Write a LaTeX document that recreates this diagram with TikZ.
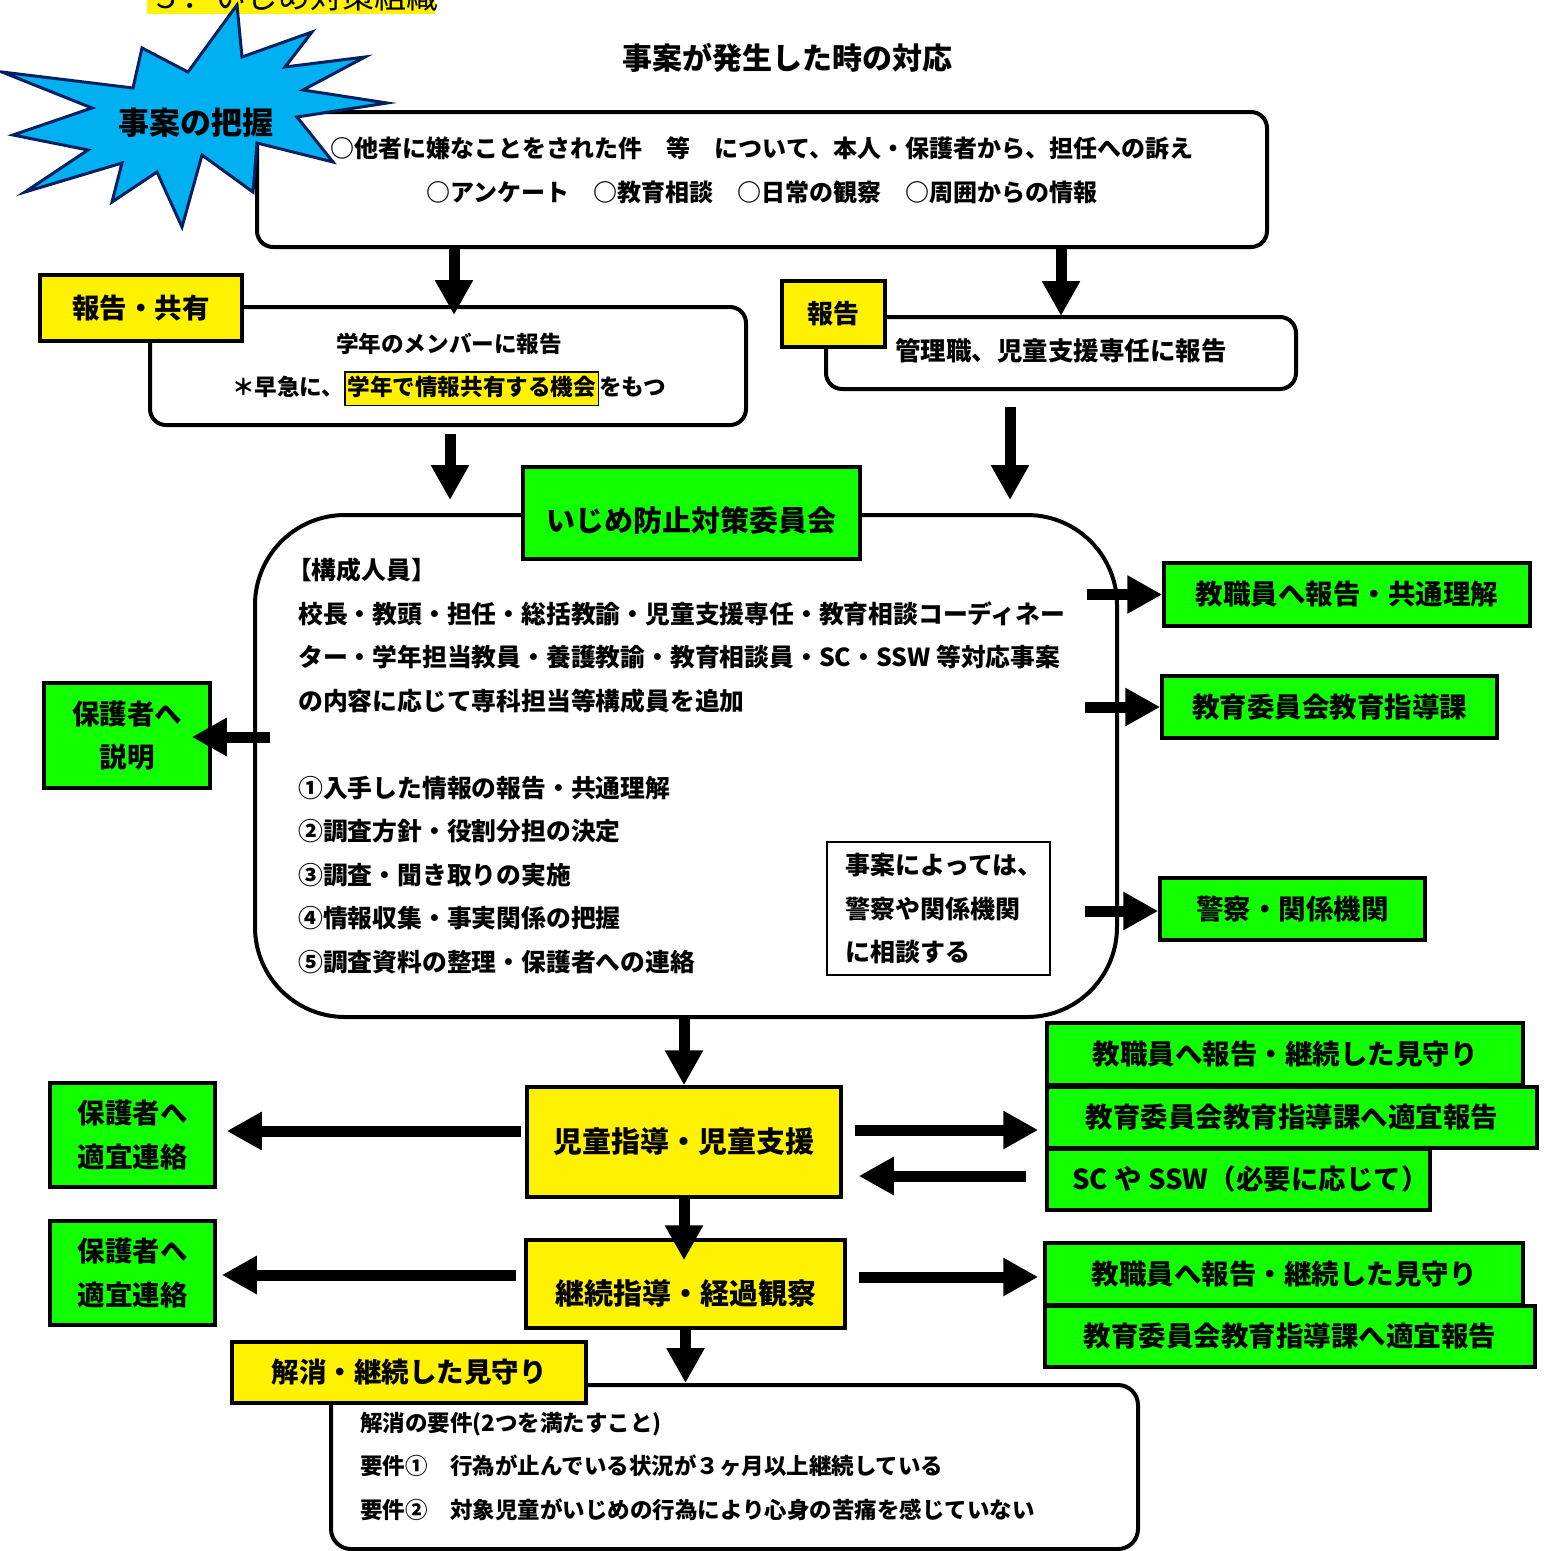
\documentclass[tikz,border=0pt]{standalone}
\usepackage{fontspec}
\setmainfont{Noto Sans CJK JP}
\usetikzlibrary{arrows.meta,calc}
\definecolor{actgreen}{RGB}{18,255,0}
\definecolor{starfill}{RGB}{0,176,240}
\definecolor{starline}{RGB}{0,32,96}
\newcommand{\bodyfont}[1]{\fontsize{#1pt}{43.5pt}\selectfont\bfseries}

\begin{document}
\begin{tikzpicture}[x=1pt,y=-1pt,every node/.style={inner sep=0pt},
  roundbox/.style={draw,line width=4pt,rounded corners=16pt,fill=white},
  greenbox/.style={draw,line width=3.5pt,fill=actgreen,font={\bodyfont{27.5}}},
  yellowbox/.style={draw,line width=3.5pt,fill=yellow,font={\bodyfont{27.5}}},
  fatarrow/.style={line width=11pt,-{Triangle[width=36pt,length=35pt]}}]
\useasboundingbox (0,0) rectangle (1543,1551);
\clip (0,0) rectangle (1543,1551);

\fill[yellow] (147,-20) rectangle (435,14);
\node[font=\fontsize{32pt}{32pt}\selectfont,anchor=base west] (title) at (150,8) {５．いじめ対策組織};
\node[font={\bodyfont{30}}] (heading) at (787,58) {事案が発生した時の対応};

\node[roundbox,minimum width=1010pt,minimum height=135pt] (case) at (762,179.5) {};
\node[font={\bodyfont{24}},align=center] (caseText) at (762,170.5)
    {○他者に嫌なことをされた件　等　について、本人・保護者から、担任への訴え\\
     ○アンケート　○教育相談　○日常の観察　○周囲からの情報};

\filldraw[fill=starfill,draw=starline,line width=3pt] (237,5) -- (242,57) -- (312,32) -- (285,67)
    -- (365,57) -- (303,90) -- (387,103) -- (297,117) -- (333,162) -- (257,143) -- (253,192)
    -- (202,155) -- (182,227) -- (157,172) -- (112,202) -- (122,163) -- (25,192) -- (88,150)
    -- (13,135) -- (92,108) -- (2,72) -- (133,88) -- (142,48) -- (188,72) -- cycle;
\node[font={\bodyfont{31}}] (grasp) at (196,123) {事案の把握};

\node[roundbox,minimum width=596pt,minimum height=118pt] (grade) at (448,366) {};
\node[font={\bodyfont{22.6}},align=center] (gradeText) at (449,369.5)
    {学年のメンバーに報告\\
     ＊早急に、{\setlength{\fboxsep}{1.5pt}\setlength{\fboxrule}{1.5pt}\fcolorbox{black}{yellow}{\rule[-0.35em]{0pt}{1.3em}学年で情報共有する機会}}をもつ};
\node[yellowbox,minimum width=202pt,minimum height=66pt] (shareTag) at (141,308) {報告・共有};

\node[roundbox,minimum width=470pt,minimum height=72pt] (admin) at (1061,353) {};
\node[font={\bodyfont{25.5}}] (adminText) at (1061,351) {管理職、児童支援専任に報告};
\node[yellowbox,minimum width=103pt,minimum height=66pt,font={\bodyfont{26}}] (reportTag) at (833.5,314) {報告};

\node[draw,line width=4pt,rounded corners=90pt,minimum width=862pt,minimum height=502pt] (committee) at (686,766) {};
\node[greenbox,minimum width=337pt,minimum height=92pt,font={\bodyfont{29}},text height=40pt,text depth=4pt] (committeeTitle) at (691.5,513) {いじめ防止対策委員会};
\node[font={\bodyfont{24.8}},align=left,anchor=west] (members) at (298,766)
    {\hspace*{-0.45em}【構成人員】\\
     校長・教頭・担任・総括教諭・児童支援専任・教育相談コーディネー\\
     ター・学年担当教員・養護教諭・教育相談員・SC・SSW 等対応事案\\
     の内容に応じて専科担当等構成員を追加\\[43.5pt]
     ①入手した情報の報告・共通理解\\
     ②調査方針・役割分担の決定\\
     ③調査・聞き取りの実施\\
     ④情報収集・事実関係の把握\\
     ⑤調査資料の整理・保護者への連絡};
\node[draw,line width=1.5pt,fill=white,minimum width=223pt,minimum height=133pt] (consult) at (938.5,908.5) {};
\node[font={\bodyfont{25}},align=left,anchor=west] (consultText) at (845,909)
    {事案によっては、\\警察や関係機関\\に相談する};

\node[greenbox,minimum width=366pt,minimum height=63pt] (staffShare) at (1347,594.5) {教職員へ報告・共通理解};
\node[greenbox,minimum width=335pt,minimum height=62pt] (boardShare) at (1329.5,707) {教育委員会教育指導課};
\node[greenbox,minimum width=265pt,minimum height=62pt] (police) at (1292.5,909) {警察・関係機関};
\node[greenbox,minimum width=166pt,minimum height=105pt,align=center] (explain) at (127,735.5) {保護者へ\\説明};

\node[yellowbox,minimum width=314pt,minimum height=110pt,font={\bodyfont{29}}] (guide) at (684,1142) {児童指導・児童支援};
\node[greenbox,minimum width=165pt,minimum height=104pt,align=center] (contactA) at (132.5,1135) {保護者へ\\適宜連絡};
\node[greenbox,minimum width=476pt,minimum height=62pt] (staffWatchA) at (1285,1054) {教職員へ報告・継続した見守り};
\node[greenbox,minimum width=490pt,minimum height=61pt] (boardReportA) at (1292,1117.5) {教育委員会教育指導課へ適宜報告};
\node[greenbox,minimum width=383pt,minimum height=61pt] (expertA) at (1238.5,1179.5) {};
\node[font={\bodyfont{27.5}},anchor=west] (expertText) at (1072,1179) {SC や SSW（必要に応じて）};

\node[yellowbox,minimum width=319pt,minimum height=88pt,font={\bodyfont{29}},text height=44pt,text depth=4pt] (follow) at (685.5,1284) {継続指導・経過観察};
\node[greenbox,minimum width=165pt,minimum height=104pt,align=center] (contactB) at (132.5,1273) {保護者へ\\適宜連絡};
\node[greenbox,minimum width=478pt,minimum height=62pt] (staffWatchB) at (1284,1274) {教職員へ報告・継続した見守り};
\node[greenbox,minimum width=490pt,minimum height=61pt] (boardReportB) at (1290,1336.5) {教育委員会教育指導課へ適宜報告};

\node[roundbox,rounded corners=20pt,minimum width=807pt,minimum height=164pt] (resolve) at (734.5,1467) {};
\node[yellowbox,minimum width=354pt,minimum height=61pt] (resolveTag) at (409,1372.5) {解消・継続した見守り};
\node[font={\bodyfont{22.5}},align=left,anchor=west] (resolveText) at (360,1466.5)
    {解消の要件(2つを満たすこと)\\
     要件①　行為が止んでいる状況が３ヶ月以上継続している\\
     要件②　対象児童がいじめの行為により心身の苦痛を感じていない};

\draw[fatarrow] ($(case.south -| grade.north)+(6,0)$) -- ($(grade.north)+(6,10)$);
\draw[fatarrow] (case.south -| admin.north) -- ($(admin.north)+(0,1)$);
\draw[fatarrow] ($(grade.south)+(2,7)$) -- ($(grade.south |- committee.north)+(2,-13)$);
\draw[fatarrow] ($(admin.south)+(-51,16)$) -- ($(admin.south |- committee.north)+(-51,-13)$);
\draw[fatarrow] ($(committee.east |- staffShare.west)+(-32,0)$) -- (staffShare.west);
\draw[fatarrow] ($(committee.east |- boardShare.west)+(-34,0)$) -- (boardShare.west);
\draw[fatarrow] ($(committee.east |- police.west)+(-34,2)$) -- ($(police.west)+(0,2)$);
\draw[fatarrow] ($(committee.west |- explain.east)+(17,1.5)$) -- ($(explain.east)+(-20,1.5)$);
\draw[fatarrow] (committee.south -| guide.north) -- (guide.north);
\draw[fatarrow] ($(guide.west)+(-4,-11)$) -- ($(contactA.east |- guide.west)+(10,-11)$);
\draw[fatarrow] ($(guide.east)+(12,-12)$) -- ($(boardReportA.west |- guide.east)+(-7,-12)$);
\draw[fatarrow] ($(expertA.west |- guide.east)+(-19,34)$) -- ($(guide.east)+(16,34)$);
\draw[fatarrow] (guide.south) -- ($(guide.south |- follow.north)+(0,22)$);
\draw[fatarrow] ($(follow.west)+(-8,-9)$) -- ($(contactB.east |- follow.west)+(5,-9)$);
\draw[fatarrow] ($(follow.east)+(12,-7)$) -- ($(staffWatchB.west |- follow.east)+(-5,-7)$);
\draw[fatarrow] (follow.south) -- (follow.south |- resolve.north);
\end{tikzpicture}
\end{document}
